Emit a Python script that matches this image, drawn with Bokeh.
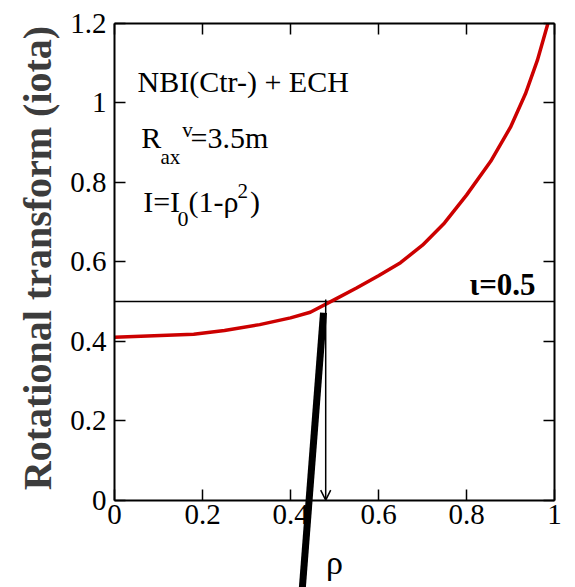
import math
from bokeh.plotting import figure
from bokeh.models import (Range1d, LinearAxis, FixedTicker, Arrow, OpenHead, Label)
from bokeh.embed import file_html
from bokeh.resources import INLINE

# ---- data ----
rho = [0.0, 0.18, 0.25, 0.33, 0.40, 0.445, 0.5, 0.55, 0.6, 0.65, 0.7, 0.75, 0.8, 0.855, 0.9, 0.934, 0.961, 0.985]
iota = [0.410, 0.418, 0.427, 0.442, 0.459, 0.473, 0.505, 0.534, 0.565, 0.598, 0.642, 0.698, 0.768, 0.853, 0.939, 1.023, 1.107, 1.200]

pointer_rho = [0.475, 0.427]
pointer_iota = [0.472, -0.2198]

iota_ref = 0.5
ref_rho = [0.0, 1.0]
rho_cross = 0.48

x_ticks = [0, 0.2, 0.4, 0.6, 0.8, 1]
x_tick_labels = ["0", "0.2", "0.4", "0.6", "0.8", "1"]
y_ticks = [0, 0.2, 0.4, 0.6, 0.8, 1, 1.2]
y_tick_labels = ["0", "0.2", "0.4", "0.6", "0.8", "1", "1.2"]

x_title = "ρ"
y_title = "Rotational transform (iota)"

SERIF = "Liberation Serif"
PX_X = 440.0     # pixels per unit of rho
PX_Y = 397.25    # pixels per unit of iota

p = figure(width=575, height=587,
           x_range=Range1d(-114 / PX_X, 1 + 21 / PX_X),
           y_range=Range1d(-(587 - 499.7) / PX_Y, 499.7 / PX_Y),
           min_border_left=0, min_border_right=0, min_border_top=0, min_border_bottom=0,
           output_backend="svg", toolbar_location=None)
p.title.visible = False
p.outline_line_color = None
p.xgrid.visible = False
p.ygrid.visible = False
p.background_fill_color = "white"
p.border_fill_color = "white"


def style_axis(ax, ticks, labels, show_labels=True):
    ax.ticker = FixedTicker(ticks=ticks)
    ax.major_label_overrides = {t: l for t, l in zip(ticks, labels)}
    ax.major_tick_in = 11
    ax.major_tick_out = 0
    ax.minor_tick_in = 0
    ax.minor_tick_out = 0
    ax.axis_line_width = 2
    ax.axis_line_color = "black"
    ax.major_tick_line_width = 1.5
    ax.major_tick_line_color = "black"
    ax.major_label_text_font = SERIF
    ax.major_label_text_color = "black"
    if show_labels:
        ax.major_label_text_font_size = "29px"
    else:
        ax.major_label_text_font_size = "0px"
        ax.major_label_text_alpha = 0


xa = p.xaxis[0]
xa.fixed_location = 0
xa.bounds = (0, 1)
style_axis(xa, x_ticks, x_tick_labels)
xa.major_label_standoff = 5

ya = p.yaxis[0]
ya.fixed_location = 0
ya.bounds = (0, 1.2)
style_axis(ya, y_ticks, y_tick_labels)
ya.major_label_standoff = 8

top = LinearAxis(fixed_location=1.2, bounds=(0, 1))
style_axis(top, x_ticks, x_tick_labels, show_labels=False)
p.add_layout(top, "above")

right = LinearAxis(fixed_location=1, bounds=(0, 1.2))
style_axis(right, y_ticks, y_tick_labels, show_labels=False)
p.add_layout(right, "right")

# reference line iota = 0.5
p.line(ref_rho, [iota_ref, iota_ref], line_color="black", line_width=1.5)

# curve
p.line(rho, iota, line_color="#cc0000", line_width=3.5, line_join="round")

# arrow down to rho axis
p.add_layout(Arrow(end=OpenHead(size=10, line_width=1.5, line_color="black"),
                   x_start=rho_cross, y_start=iota_ref + 0.005, x_end=rho_cross, y_end=0,
                   line_width=1.5, line_color="black"))

# thick pointer line
pl = p.line(pointer_rho, pointer_iota, line_color="black", line_width=7)
pl.level = "overlay"

BASE_COMP = 0.37  # baseline compensation (fraction of font size)


def lab(x, y, text, size=30, style="normal", align="left", color="black"):
    p.add_layout(Label(x=x, y=y + BASE_COMP * size / PX_Y, text=text, text_font=SERIF,
                       text_font_size=f"{size}px", text_font_style=style, text_color=color,
                       text_align=align, text_baseline="alphabetic"))


lab(0.0523, 1.027, "NBI(Ctr-) + ECH")
lab(0.0607, 0.884, "R")
lab(0.1045, 0.8445, "ax", size=21)
lab(0.154, 0.912, "v", size=21)
lab(0.1727, 0.884, "=3.5m")
lab(0.0652, 0.7245, "I=I")
lab(0.143, 0.687, "0", size=22)
lab(0.168, 0.7245, "(1-ρ")
lab(0.2795, 0.759, "2", size=21)
lab(0.308, 0.7245, ")")
lab(0.957, 0.515, "ι=0.5", size=31, style="bold", align="right")

# axis titles
p.add_layout(Label(x=0.5, y=-0.1896 + BASE_COMP * 34 / PX_Y, text=x_title, text_font=SERIF,
                   text_font_size="34px", text_align="center", text_baseline="alphabetic",
                   text_color="black"))
p.add_layout(Label(x=(52 - 114) / PX_X - BASE_COMP * 40 / PX_X, y=0.6097, text=y_title,
                   angle=math.pi / 2, text_font=SERIF, text_font_size="40px",
                   text_font_style="bold", text_align="center", text_baseline="alphabetic",
                   text_color="#3c3c3c"))

open("out.html", "w").write(file_html(p, INLINE))
